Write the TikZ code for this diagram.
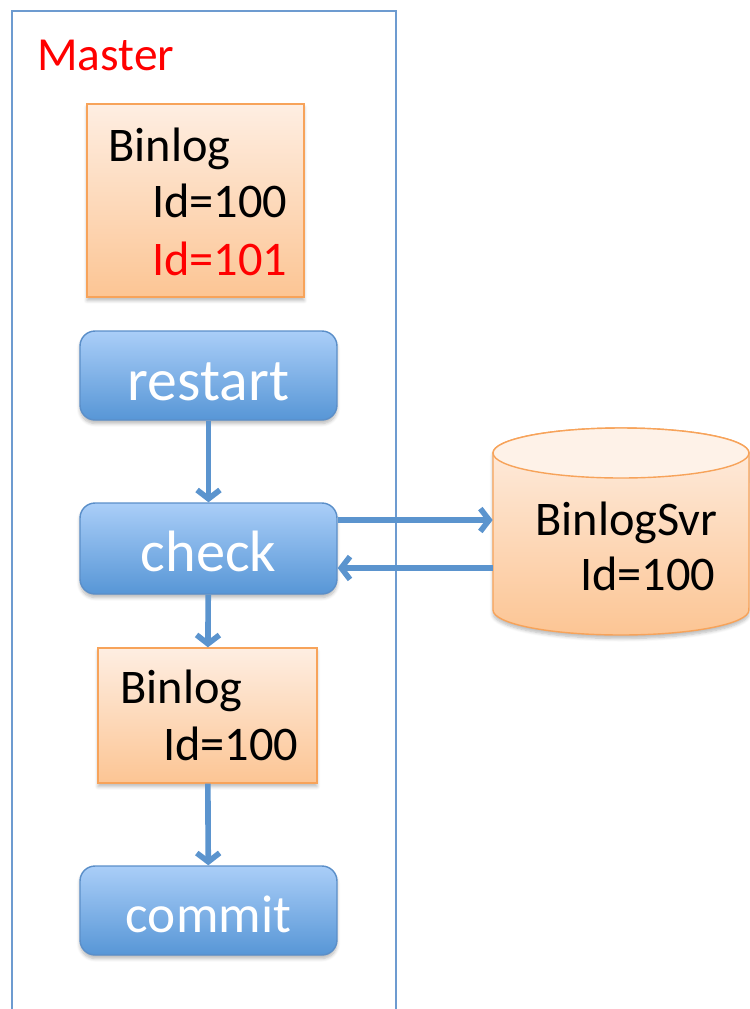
\documentclass[tikz,border=0pt]{standalone}
\usepackage{fontspec}
\setmainfont{Carlito}
\usetikzlibrary{arrows.meta,calc,shadows.blur}
\definecolor{frameblue}{HTML}{6D9BD0}
\definecolor{bluetop}{HTML}{AACEF8}
\definecolor{bluebot}{HTML}{5796D6}
\definecolor{blueedge}{HTML}{5B8FC9}
\definecolor{arrowblue}{HTML}{5B94CE}
\definecolor{orangetop}{HTML}{FEEEE2}
\definecolor{orangebot}{HTML}{FCC594}
\definecolor{orangeedge}{HTML}{F7A35A}
\definecolor{cyltop}{HTML}{FEF2E8}
\begin{document}
\begin{tikzpicture}[x=0.02cm,y=-0.02cm,
  soft/.style={blur shadow={shadow blur steps=6, shadow xshift=0pt, shadow yshift=-0.7mm, shadow opacity=28}},
  stepbox/.style={draw=blueedge, line width=0.8pt, rounded corners=0.3cm,
    top color=bluetop, bottom color=bluebot, text=white,
    minimum width=5.14cm, inner sep=0pt, text depth=0pt, soft},
  logbox/.style={draw=orangeedge, line width=0.8pt, top color=orangetop,
    bottom color=orangebot, inner sep=0pt, soft},
  txt/.style={anchor=base west, inner sep=0pt, font=\fontsize{27.5}{32}\selectfont},
  flow/.style={line width=3.2pt, draw=arrowblue, -{Straight Barb[length=5pt,width=13pt]}}]
\useasboundingbox (0,0) rectangle (750,1009);

% Master frame, open at the bottom
\draw[frameblue, line width=1.1pt] (12,1012) -- (12,11) -- (396,11) -- (396,1012);
\node[txt, text=red, font=\fontsize{27}{32}\selectfont] (master) at (37,70) {Master};

% first binlog block
\node[logbox, minimum width=4.34cm, minimum height=3.86cm] (log1) at (195.5,200.5) {};
\node[txt] (log1a) at (108,161) {Binlog};
\node[txt] (log1b) at (152,217) {Id=100};
\node[txt, text=red] (log1c) at (152,275) {Id=101};

% process steps
\node[stepbox, minimum height=1.78cm, text height=0.98cm,
  font=\fontsize{34}{38}\selectfont] (restart) at (208.5,375.5) {restart};
\node[stepbox, minimum height=1.82cm, text height=0.93cm,
  font=\fontsize{33.2}{38}\selectfont] (check) at (208.5,548.5) {check};
\node[logbox, minimum width=4.38cm, minimum height=2.7cm] (log2) at (207.5,715.5) {};
\node[txt] (log2a) at (120,703) {Binlog};
\node[txt] (log2b) at (163,760) {Id=100};
\node[stepbox, minimum height=1.78cm, text height=0.86cm,
  font=\fontsize{30.3}{35}\selectfont] (commit) at (208.5,910.5) {commit};

% BinlogSvr cylinder
\node[minimum width=5.12cm, minimum height=4.14cm, inner sep=0pt] (svr) at (621,531.5) {};
\path[draw=orangeedge, line width=0.8pt, top color=orangetop, bottom color=orangebot, soft]
  (493,453) -- (493,610) arc[start angle=180, end angle=360, x radius=2.56cm, y radius=0.5cm]
  -- (749,453) arc[start angle=0, end angle=180, x radius=2.56cm, y radius=0.5cm] -- cycle;
\draw[orangeedge, line width=0.8pt, fill=cyltop] (621,453) ellipse [x radius=2.56cm, y radius=0.5cm];
\node[txt] (svra) at (535,535) {BinlogSvr};
\node[txt] (svrb) at (580,590) {Id=100};

% connectors
\draw[flow] (restart) -- (check);
\draw[flow] (check) -- (log2);
\draw[flow] (log2) -- (commit);
\coordinate (out) at ($(check.east)+(0,-28.5)$);
\coordinate (back) at ($(check.east)+(0,19.5)$);
\draw[flow] (out) -- (svr.west |- out);
\draw[flow] (svr.west |- back) -- (back);
\end{tikzpicture}
\end{document}
